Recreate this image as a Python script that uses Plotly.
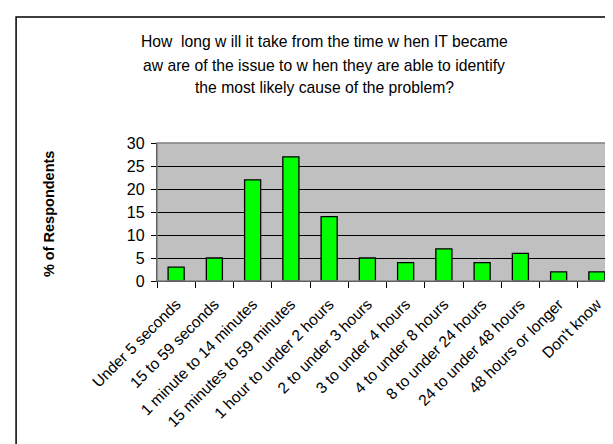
import plotly.graph_objects as go

categories = ["Under 5 seconds", "15 to 59 seconds", "1 minute to 14 minutes",
              "15 minutes to 59 minutes", "1 hour to under 2 hours", "2 to under 3 hours",
              "3 to under 4 hours", "4 to under 8 hours", "8 to under 24 hours",
              "24 to under 48 hours", "48 hours or longer", "Don't know"]
values = [3, 5, 22, 27, 14, 5, 4, 7, 4, 6, 2, 2]
y_ticks = [0, 5, 10, 15, 20, 25, 30]

title_lines = ["How  long w ill it take from the time w hen IT became",
               "aw are of the issue to w hen they are able to identify",
               "the most likely cause of the problem?"]
title_y = [1.739, 1.565, 1.399]

fig = go.Figure(go.Bar(
    x=categories, y=values,
    marker=dict(color="#00FF00", line=dict(color="black", width=1.3)),
    width=0.42,
))

annotations = [
    dict(text=t, xref="paper", yref="paper", x=0.364, y=yy,
         xanchor="center", yanchor="middle", showarrow=False,
         font=dict(size=15.7))
    for t, yy in zip(title_lines, title_y)
]
annotations.append(
    dict(text="<b>% of Respondents</b>", xref="paper", yref="paper", x=-0.235, y=0.486,
         xanchor="center", yanchor="middle", showarrow=False, textangle=-90,
         font=dict(size=14.5))
)

fig.update_layout(
    width=613, height=444,
    margin=dict(l=149, r=5, t=135, b=171, autoexpand=False),
    paper_bgcolor="white",
    plot_bgcolor="#C0C0C0",
    font=dict(family="Liberation Sans, Arial, sans-serif", size=15, color="black"),
    showlegend=False,
    shapes=[
        dict(type="rect", xref="paper", yref="paper",
             x0=-0.307, x1=1.03, y0=-1.5, y1=1.913,
             line=dict(color="black", width=1.5), fillcolor="rgba(0,0,0,0)", layer="below"),
        dict(type="rect", xref="paper", yref="paper", x0=0, x1=1, y0=0, y1=1,
             line=dict(color="#808080", width=1.5), fillcolor="rgba(0,0,0,0)", layer="above"),
    ],
    annotations=annotations,
)

fig.update_xaxes(
    tickangle=-45, ticks="outside", tickson="boundaries", ticklen=6,
    tickcolor="black", showline=True, linecolor="black", linewidth=1.3,
    showgrid=False, tickfont=dict(size=15.5), automargin=False, ticklabelstandoff=7,
)
fig.update_yaxes(
    range=[0, 30], tickvals=y_ticks, ticks="outside", ticklen=5, tickcolor="black",
    showline=True, linecolor="black", linewidth=1.3, ticklabelstandoff=3,
    showgrid=True, gridcolor="black", gridwidth=1, zeroline=False,
    tickfont=dict(size=16), automargin=False,
)

fig.write_html("out.html")
